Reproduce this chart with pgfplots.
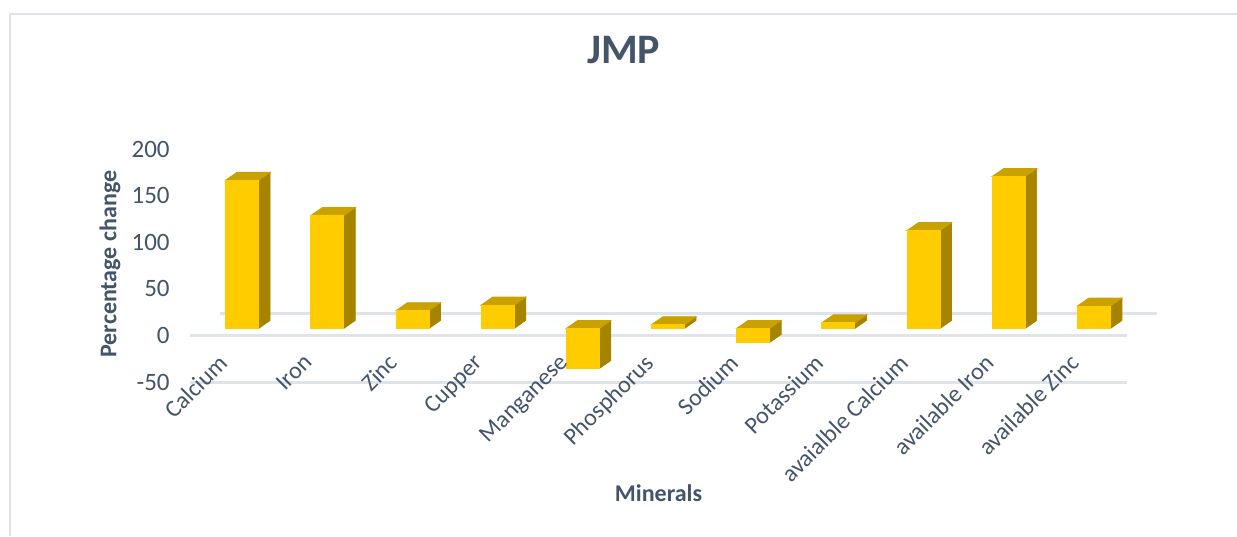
\documentclass[border=0pt]{standalone}
\usepackage{pgfplots}
\pgfplotsset{compat=1.18}
\usepackage{pgfplotstable}
\usepackage{fontspec}
\setmainfont{Carlito}
\usetikzlibrary{calc}

\definecolor{txt}{HTML}{44546A}
\definecolor{gridc}{HTML}{DFE3EA}
\definecolor{barfront}{HTML}{FFCC00}
\definecolor{bartop}{HTML}{C9A100}
\definecolor{barside}{HTML}{A68400}

\pgfplotsset{
  frame/.style={
    at={(95pt,-191pt)}, anchor=south west,
    scale only axis, width=468.5pt, height=116.5pt,
    xmin=-0.5, xmax=10.5, ymin=-50, ymax=200,
    clip=false, axis line style={draw=none}, major tick length=0pt,
  },
}

% percentage change per mineral (x = category index)
\pgfplotstableread{
x  v    b
0  159  0
1  121  0
2  19   0
3  25   0
4  -43  0
5  4    0
6  -15  0
7  6    0
8  105  0
9  163  0
10 24   0
}\minerals

\begin{document}
\begin{tikzpicture}
\path[use as bounding box] (0,0) rectangle (618.5pt,-268pt);
\begin{axis}[
  frame,
  xtick=\empty,
  ytick={-50,0,50,100,150,200},
  extra y ticks={-50,0},
  extra y tick labels={},
  extra y tick style={ymajorgrids=true, major grid style={draw=gridc, line width=1.5pt}},
  /pgf/number format/assume math mode=true,
  yticklabel style={font=\fontsize{12.5}{14}\selectfont, text=txt, anchor=east, inner sep=0pt, xshift=-10pt},
  xlabel={Minerals},
  ylabel={Percentage change},
  xlabel style={font=\bfseries\fontsize{12}{14}\selectfont, text=txt, at={(axis description cs:0.5,-0.476)}, anchor=center},
  ylabel style={font=\bfseries\fontsize{12}{14}\selectfont, text=txt, at={(axis description cs:-0.0854,0.506)}, anchor=center},
  title={JMP},
  title style={font=\bfseries\fontsize{21}{24}\selectfont, text=txt, at={(axis description cs:0.463,1.373)}, anchor=center},
]
% back edge of the floor
\addplot[draw=gridc, line width=1.5pt] coordinates {(-0.147,23.6) (10.85,23.6)};
% 3D boxes, one per category
\addplot[scatter, only marks, mark=*, mark size=0pt,
  visualization depends on={\thisrow{v} \as \val},
  scatter/@pre marker code/.code={%
    \pgfmathsetmacro\vt{max(0,\val)}%
    \pgfmathsetmacro\vb{min(0,\val)}%
    \fill[barside] ($(13pt,3.5pt)+(axis direction cs:0,\vb)$) -- ++(5.75pt,4pt)
      -- ($(18.75pt,7.5pt)+(axis direction cs:0,\vt)$) -- ($(13pt,3.5pt)+(axis direction cs:0,\vt)$) -- cycle;
    \fill[bartop] ($(-3.5pt,3.5pt)+(axis direction cs:0,\vt)$) -- ++(5.75pt,4pt)
      -- ++(16.5pt,0pt) -- ++(-5.75pt,-4pt) -- cycle;
    \fill[barfront] ($(-3.5pt,3.5pt)+(axis direction cs:0,\vb)$) rectangle ($(13pt,3.5pt)+(axis direction cs:0,\vt)$);
  },
  scatter/@post marker code/.code={},
] table[x=x, y=b] {\minerals};
\end{axis}
% category labels on top of the grid lines
\begin{axis}[
  frame,
  ytick=\empty,
  xtick={0,...,10},
  xticklabels={Calcium, Iron, Zinc, Cupper, Manganese, Phosphorus, Sodium, Potassium, avaialble Calcium, available Iron, available Zinc},
  xticklabel style={font=\fontsize{12}{14}\selectfont, text=txt, rotate=45, anchor=north east, inner sep=0pt, xshift=5pt, yshift=16pt},
]
\end{axis}
\draw[gridc, line width=1.2pt] (5pt,-268pt) -- (5pt,-7pt) -- (618.5pt,-7pt);
\end{tikzpicture}
\end{document}
